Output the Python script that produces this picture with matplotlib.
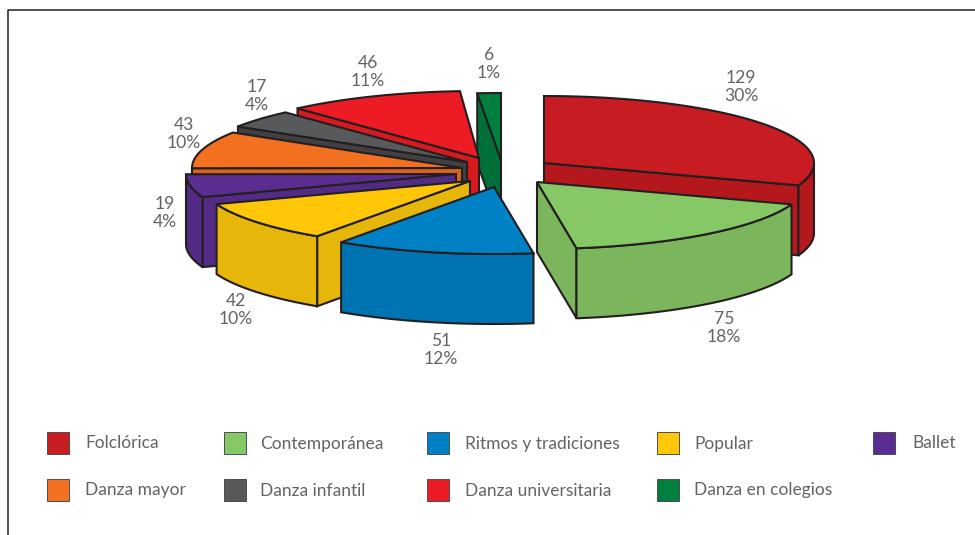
import numpy as np
import matplotlib
matplotlib.use("Agg")
import matplotlib.pyplot as plt
from matplotlib.patches import Polygon, Rectangle

categories = ["Folclórica", "Contemporánea", "Ritmos y tradiciones", "Popular", "Ballet",
              "Danza mayor", "Danza infantil", "Danza universitaria", "Danza en colegios"]
values = [129, 75, 51, 42, 19, 43, 17, 46, 6]

top_colors = ["#C71C22", "#86C866", "#0081C6", "#FFC708", "#5C2D91",
              "#F37021", "#58595B", "#ED1C24", "#007F3F"]
side_colors = ["#B4181D", "#7BB55C", "#0074B2", "#E6B60A", "#532A85",
               "#D9641E", "#414042", "#D71920", "#007038"]

# layout
RX, RY, H = 270, 67, 70
offsets = [(544, 163), (537, 182), (494, 187), (470, 181), (456, 174),
           (462, 168), (467, 162), (479, 158), (501, 160)]
# small perspective corrections of the drawn wedge edges, in degrees
start_nudge = [0, 1, 0, 0, 0, 4, 0, 1.5, 0]
end_nudge = [1, 0, 0, 0, 4, 0, 1.5, 1, 0]
draw_order = [0, 8, 7, 6, 5, 4, 3, 2, 1]
label_pos = [(741, 87), (724, 328), (441, 350), (236, 310), (165, 213),
             (184, 134), (257, 96), (368, 72), (489, 64)]
legend_swatch = [(47, 443), (224, 443), (427, 443), (657, 443), (873, 443),
                 (47, 490), (224, 490), (427, 490), (657, 490)]
legend_text_x = [85, 260, 465, 694, 912, 85, 260, 465, 694]

TXT = "#626365"
EDGE = "#231F20"
plt.rcParams["font.family"] = ["Lato", "DejaVu Sans"]

fig = plt.figure(figsize=(9.75, 5.35), dpi=100)
ax = fig.add_axes([0, 0, 1, 1])
ax.set_xlim(0, 975)
ax.set_ylim(535, 0)
ax.axis("off")

# frame
ax.plot([8, 8, 975], [535, 10, 10], color="#231F20", lw=1.1, solid_capstyle="butt")

total = sum(values)
ends = np.cumsum(values) / total * 360
starts = np.concatenate([[0], ends[:-1]])
starts = starts + np.array(start_nudge)
ends = ends + np.array(end_nudge)


def pt(c, deg, dz=0):
    a = np.radians(deg)
    return np.column_stack([c[0] + RX * np.sin(a), c[1] - RY * np.cos(a) + dz])


def poly(xy, fc):
    ax.add_patch(Polygon(xy, closed=True, fc=fc, ec=EDGE, lw=1.5, joinstyle="miter"))


for i in draw_order:
    c, s, e = offsets[i], starts[i], ends[i]
    apex = np.array([c])
    # radial cut faces that look towards the viewer
    if s > 180:
        p = pt(c, s)
        poly(np.vstack([apex, p, p + [0, H], apex + [0, H]]), side_colors[i])
    if e < 180:
        p = pt(c, e)
        poly(np.vstack([apex, p, p + [0, H], apex + [0, H]]), side_colors[i])
    # outer wall
    lo, hi = max(s, 90), min(e, 270)
    if hi > lo:
        t = np.linspace(lo, hi, 60)
        poly(np.vstack([pt(c, t), pt(c, t[::-1], H)]), side_colors[i])
    # top face
    t = np.linspace(s, e, 80)
    poly(np.vstack([apex, pt(c, t)]), top_colors[i])

for v, (x, y) in zip(values, label_pos):
    ax.text(x, y, f"{v}\n{round(v / total * 100)}%", ha="center", va="center",
            fontsize=12.6, color=TXT, linespacing=1.12)

for i, name in enumerate(categories):
    x, y = legend_swatch[i]
    ax.add_patch(Rectangle((x, y - 11), 22, 22, fc=top_colors[i], ec="#4D4D4F", lw=0.7))
    ax.text(legend_text_x[i], y + 0.5, name, ha="left", va="center", fontsize=12.5,
            color=TXT)

fig.savefig("out.png", dpi=100)
